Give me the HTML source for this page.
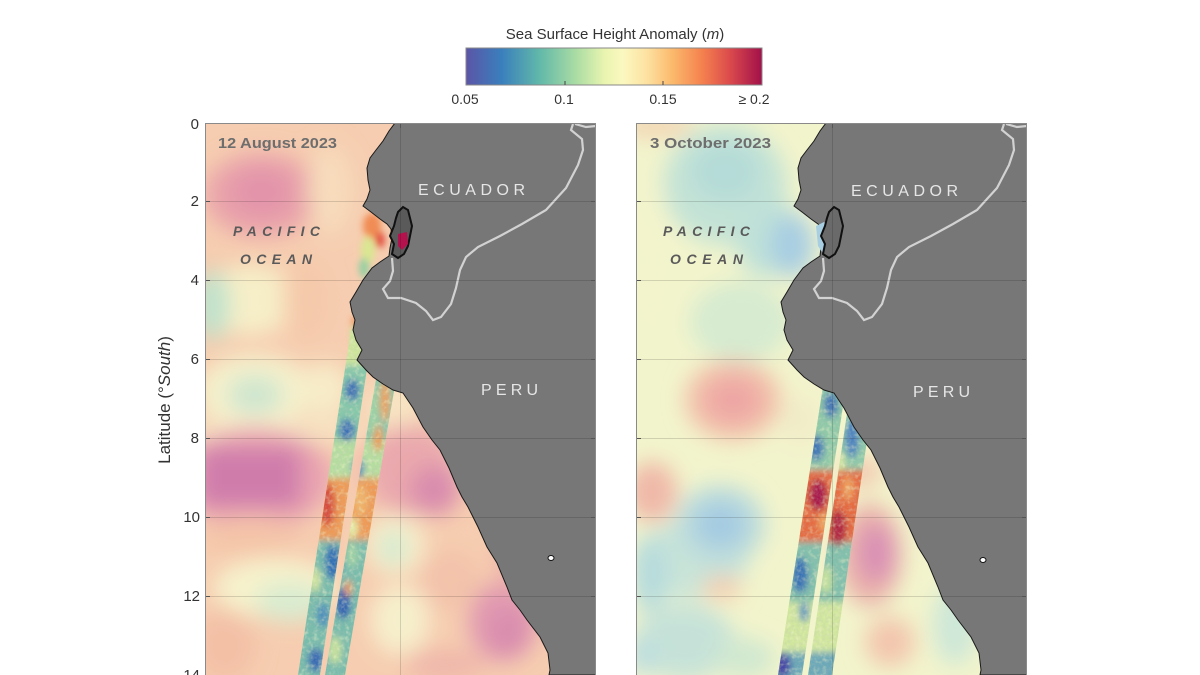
<!DOCTYPE html>
<html><head><meta charset="utf-8"><style>
html,body{margin:0;padding:0;background:#fff;}
svg{display:block;}
text{font-family:"Liberation Sans",sans-serif;}
</style></head><body>
<svg width="1200" height="675" viewBox="0 0 1200 675" xmlns="http://www.w3.org/2000/svg">
<defs>
  <linearGradient id="cb" x1="0" x2="1" y1="0" y2="0">
    <stop offset="0" stop-color="#5b55a6"/>
    <stop offset="0.12" stop-color="#3a7fbd"/>
    <stop offset="0.25" stop-color="#62b9a9"/>
    <stop offset="0.37" stop-color="#a9dca3"/>
    <stop offset="0.47" stop-color="#eaf5b0"/>
    <stop offset="0.53" stop-color="#fbf8c0"/>
    <stop offset="0.61" stop-color="#fde2a2"/>
    <stop offset="0.70" stop-color="#fbb86b"/>
    <stop offset="0.80" stop-color="#f4804e"/>
    <stop offset="0.89" stop-color="#db4b4c"/>
    <stop offset="1" stop-color="#a2104a"/>
  </linearGradient>
  <clipPath id="cpL"><rect x="205" y="123" width="391" height="552"/></clipPath>
  <clipPath id="cpR"><rect x="636" y="123" width="391" height="552"/></clipPath>
  <filter id="bl" x="-20%" y="-20%" width="140%" height="140%"><feGaussianBlur stdDeviation="11"/></filter>
  <filter id="bs" x="-20%" y="-20%" width="140%" height="140%"><feGaussianBlur stdDeviation="3.5"/></filter>
  <filter id="noise" x="0" y="0" width="100%" height="100%">
    <feTurbulence type="fractalNoise" baseFrequency="0.35" numOctaves="2" seed="3" result="t"/>
    <feColorMatrix type="matrix" values="0 0 0 0 0.5  0 0 0 0 0.5  0 0 0 0 0.5  0 0 0 1.6 -0.55"/>
  </filter>
  <filter id="noiseY" x="0" y="0" width="100%" height="100%">
    <feTurbulence type="fractalNoise" baseFrequency="0.22" numOctaves="2" seed="11" result="t"/>
    <feColorMatrix type="matrix" values="0 0 0 0 0.93  0 0 0 0 0.95  0 0 0 0 0.62  0 0 0 2.2 -1.05"/>
  </filter>
  <clipPath id="swL">
    <polygon points="351,330 373,330 320,675 298,675"/>
    <polygon points="378,368 398,368 345,675 325,675"/>
  </clipPath>
  <clipPath id="swR">
    <polygon points="824,380 847,380 802,675 778,675"/>
    <polygon points="852,380 876,380 832,675 808,675"/>
  </clipPath>
  <path id="land" d="M395,123 L389,131 L383,141 L376,150 L370,158 L367,168 L368,180 L370,190 L367,199 L363,206 L371,212 L380,219 L387,224 L391,229 L392,238 L390,248 L389,256 L380,262 L372,268 L363,280 L356,292 L350,302 L352,312 L355,320 L353,330 L356,340 L362,350 L357,360 L366,370 L373,377 L383,384 L393,390 L403,393 L413,408 L423,427 L432,440 L440,450 L449,468 L457,487 L462,497 L468,507 L478,527 L487,547 L497,563 L507,587 L512,600 L520,610 L527,620 L540,637 L548,653 L550,670 L549,675 L600,675 L600,118 L395,118 Z"/>
  <path id="border" d="M573,124 L571,130 L582,139 L583,150 L578,165 L566,188 L546,210 L522,224 L500,236 L478,247 L466,257 L460,270 L456,288 L451,304 L441,317 L433,320 L426,311 L416,303 L401,298 L388,298 L383,289 L390,281 L393,271 L392,258 M575,124 L586,127 L596,126"/>
  <path id="island" d="M398,212 L403,207 L408,210 L410,218 L412,226 L410,236 L408,246 L404,254 L398,258 L392,254 L394,244 L390,236 L394,226 L396,218 Z"/>
</defs>

<!-- Colorbar -->
<text x="615" y="39" font-size="15" fill="#333" text-anchor="middle">Sea Surface Height Anomaly (<tspan font-style="italic">m</tspan>)</text>
<rect x="466" y="48" width="296" height="37" fill="url(#cb)" stroke="#888" stroke-width="1"/>
<line x1="565" y1="81" x2="565" y2="85" stroke="#444" stroke-width="1"/>
<line x1="663" y1="81" x2="663" y2="85" stroke="#444" stroke-width="1"/>
<g font-size="14" fill="#333" text-anchor="middle">
  <text x="465" y="104">0.05</text>
  <text x="564" y="104">0.1</text>
  <text x="663" y="104">0.15</text>
  <text x="754" y="104">≥ 0.2</text>
</g>

<!-- Y axis -->
<g font-size="15" fill="#333" text-anchor="end">
  <text x="199" y="129">0</text>
  <text x="199" y="206">2</text>
  <text x="199" y="285">4</text>
  <text x="199" y="364">6</text>
  <text x="199" y="443">8</text>
  <text x="200" y="522">10</text>
  <text x="200" y="601">12</text>
  <text x="200" y="680">14</text>
</g>
<text transform="translate(170,400) rotate(-90)" font-size="17" fill="#333" text-anchor="middle">Latitude (°<tspan font-style="italic">South</tspan>)</text>

<!-- LEFT PANEL -->
<g clip-path="url(#cpL)">
  <rect x="205" y="123" width="391" height="552" fill="#f6cdb0"/>
  <g filter="url(#bl)">
    <ellipse cx="262" cy="195" rx="58" ry="42" fill="#e9a3aa"/>
    <ellipse cx="262" cy="192" rx="30" ry="22" fill="#e293aa"/>
    <ellipse cx="330" cy="190" rx="22" ry="45" fill="#f7dcbc"/>
    <ellipse cx="250" cy="300" rx="45" ry="35" fill="#f6efc8"/>
    <ellipse cx="212" cy="305" rx="18" ry="35" fill="#bfe2cc"/>
    <ellipse cx="305" cy="300" rx="22" ry="40" fill="#f5c9aa"/>
    <ellipse cx="255" cy="392" rx="58" ry="38" fill="#f5f1cc"/>
    <ellipse cx="255" cy="395" rx="28" ry="20" fill="#cfe6cf"/>
    <ellipse cx="325" cy="390" rx="25" ry="28" fill="#f7ecc8"/>
    <ellipse cx="395" cy="405" rx="30" ry="25" fill="#f7e4c2"/>
    <rect x="195" y="422" width="170" height="18" fill="#f7e6c4"/>
    <ellipse cx="255" cy="478" rx="78" ry="50" fill="#e8a2b0"/>
    <rect x="200" y="448" width="100" height="58" fill="#cf7cab"/>
    <ellipse cx="410" cy="470" rx="45" ry="45" fill="#eaa9ad"/>
    <ellipse cx="435" cy="490" rx="25" ry="25" fill="#d98cad"/>
    <ellipse cx="250" cy="535" rx="50" ry="18" fill="#f4c4a8"/>
    <ellipse cx="395" cy="545" rx="30" ry="30" fill="#f6f0cc"/>
    <ellipse cx="393" cy="548" rx="14" ry="18" fill="#d3e9d0"/>
    <ellipse cx="275" cy="588" rx="62" ry="30" fill="#f6f2cc"/>
    <ellipse cx="290" cy="602" rx="35" ry="20" fill="#d9ecd0"/>
    <ellipse cx="225" cy="645" rx="30" ry="35" fill="#f3c0a6"/>
    <ellipse cx="450" cy="580" rx="30" ry="30" fill="#f3c3aa"/>
    <ellipse cx="503" cy="622" rx="35" ry="40" fill="#e19ab0"/>
    <ellipse cx="508" cy="632" rx="18" ry="22" fill="#d88cae"/>
    <ellipse cx="400" cy="620" rx="30" ry="35" fill="#f6efcc"/>
    <ellipse cx="445" cy="665" rx="40" ry="15" fill="#efb6aa"/>
    <ellipse cx="520" cy="560" rx="25" ry="30" fill="#efb4aa"/>
  </g>
  <g filter="url(#bs)" opacity="0.95">
    <ellipse cx="372" cy="226" rx="9" ry="13" fill="#f08850"/>
    <ellipse cx="368" cy="250" rx="7" ry="14" fill="#d8e890"/>
    <ellipse cx="380" cy="240" rx="5" ry="8" fill="#e04a3a"/>
    <ellipse cx="364" cy="268" rx="5" ry="10" fill="#8fd0a0"/>
    <ellipse cx="356" cy="335" rx="5" ry="12" fill="#c8e49a"/>
    <ellipse cx="356" cy="322" rx="4" ry="5" fill="#e8803f"/>
  </g>
  <!-- swath -->
  <g clip-path="url(#swL)">
    <rect x="290" y="320" width="120" height="360" fill="#d8ec9e"/>
    <g filter="url(#bs)">
      <rect x="290" y="320" width="120" height="45" fill="#cfe69c"/>
      <rect x="290" y="365" width="120" height="75" fill="#86c8aa"/>
      <rect x="290" y="440" width="120" height="40" fill="#b6dea0"/>
      <rect x="290" y="478" width="120" height="62" fill="#f09a55"/>
      <rect x="290" y="540" width="120" height="140" fill="#78bcac"/>
      <ellipse cx="352" cy="390" rx="7" ry="11" fill="#3a6db5"/>
      <ellipse cx="347" cy="430" rx="8" ry="11" fill="#3b70b6"/>
      <ellipse cx="385" cy="400" rx="5" ry="22" fill="#f0a058"/>
      <ellipse cx="378" cy="438" rx="5" ry="14" fill="#ee9a55"/>
      <ellipse cx="372" cy="410" rx="6" ry="25" fill="#9cd3a4"/>
      <ellipse cx="358" cy="468" rx="6" ry="10" fill="#4d88bd"/>
      <ellipse cx="327" cy="505" rx="8" ry="22" fill="#d84a3a"/>
      <ellipse cx="360" cy="500" rx="7" ry="16" fill="#f3b468"/>
      <ellipse cx="352" cy="528" rx="6" ry="10" fill="#e6f0a8"/>
      <ellipse cx="333" cy="562" rx="8" ry="18" fill="#2f6db5"/>
      <ellipse cx="343" cy="603" rx="8" ry="16" fill="#2f5fb0"/>
      <ellipse cx="323" cy="615" rx="6" ry="12" fill="#4a8cbc"/>
      <ellipse cx="316" cy="660" rx="8" ry="12" fill="#3468b3"/>
      <ellipse cx="335" cy="650" rx="6" ry="14" fill="#c9e49c"/>
      <ellipse cx="348" cy="588" rx="4" ry="8" fill="#f09a5a"/>
      <ellipse cx="352" cy="555" rx="6" ry="12" fill="#9ed3a4"/>
      <ellipse cx="315" cy="580" rx="5" ry="12" fill="#d8ea9e"/>
    </g>
    <rect x="290" y="320" width="120" height="360" filter="url(#noiseY)" opacity="0.55"/>
    <rect x="290" y="320" width="120" height="360" filter="url(#noise)" opacity="0.3"/>
    <polygon points="373,330 378,330 325,675 320,675" fill="#f2d8cc"/>
  </g>
  <use href="#land" fill="#777" stroke="#1a1a1a" stroke-width="1"/>
  <use href="#border" fill="none" stroke="#d2d2d2" stroke-width="2.2"/>
  <use href="#island" fill="#5a5a5a" stroke="#111" stroke-width="2"/>
  <path d="M398,234 L407,232 L408,244 L402,250 L398,246 Z" fill="#b3124c"/>
  <ellipse cx="551" cy="558" rx="3" ry="2.5" fill="#fff" stroke="#111" stroke-width="1"/>
  <g stroke="#000" stroke-opacity="0.14" stroke-width="1">
    <line x1="205" y1="201.5" x2="596" y2="201.5"/>
    <line x1="205" y1="280.5" x2="596" y2="280.5"/>
    <line x1="205" y1="359.5" x2="596" y2="359.5"/>
    <line x1="205" y1="438.5" x2="596" y2="438.5"/>
    <line x1="205" y1="517.5" x2="596" y2="517.5"/>
    <line x1="205" y1="596.5" x2="596" y2="596.5"/>
    <line x1="400.5" y1="123" x2="400.5" y2="675"/>
  </g>
  <g stroke="#555" stroke-width="1">
    <line x1="205" y1="201.5" x2="210" y2="201.5"/><line x1="591" y1="201.5" x2="596" y2="201.5"/>
    <line x1="205" y1="280.5" x2="210" y2="280.5"/><line x1="591" y1="280.5" x2="596" y2="280.5"/>
    <line x1="205" y1="359.5" x2="210" y2="359.5"/><line x1="591" y1="359.5" x2="596" y2="359.5"/>
    <line x1="205" y1="438.5" x2="210" y2="438.5"/><line x1="591" y1="438.5" x2="596" y2="438.5"/>
    <line x1="205" y1="517.5" x2="210" y2="517.5"/><line x1="591" y1="517.5" x2="596" y2="517.5"/>
    <line x1="205" y1="596.5" x2="210" y2="596.5"/><line x1="591" y1="596.5" x2="596" y2="596.5"/>
    <line x1="400.5" y1="123" x2="400.5" y2="128"/>
  </g>
  <text x="218" y="148" font-size="15" font-weight="bold" fill="#6e6e6e" textLength="119" lengthAdjust="spacingAndGlyphs">12 August 2023</text>
  <text x="418" y="195" font-size="16" fill="#e6e6e6" textLength="107" lengthAdjust="spacing">ECUADOR</text>
  <text x="233" y="236" font-size="14" font-weight="bold" font-style="italic" fill="#5a5a5a" textLength="87" lengthAdjust="spacing">PACIFIC</text>
  <text x="240" y="264" font-size="14" font-weight="bold" font-style="italic" fill="#5a5a5a" textLength="72" lengthAdjust="spacing">OCEAN</text>
  <text x="481" y="395" font-size="16" fill="#e6e6e6" textLength="57" lengthAdjust="spacing">PERU</text>
</g>
<rect x="205.5" y="123.5" width="390" height="560" fill="none" stroke="#8a8a8a" stroke-width="1"/>

<!-- RIGHT PANEL -->
<g clip-path="url(#cpR)">
  <rect x="636" y="123" width="391" height="552" fill="#f2f4cc"/>
  <g filter="url(#bl)">
    <ellipse cx="655" cy="126" rx="40" ry="10" fill="#f3d0b0"/>
    <ellipse cx="725" cy="185" rx="62" ry="60" fill="#c4e3d6"/>
    <ellipse cx="725" cy="172" rx="35" ry="30" fill="#b5dcd8"/>
    <ellipse cx="765" cy="235" rx="30" ry="42" fill="#bfe1d8"/>
    <ellipse cx="792" cy="245" rx="22" ry="32" fill="#a8cee2"/>
    <ellipse cx="650" cy="260" rx="22" ry="80" fill="#f3f4cc"/>
    <ellipse cx="740" cy="322" rx="50" ry="40" fill="#d6ebd0"/>
    <ellipse cx="733" cy="400" rx="48" ry="40" fill="#f2c0aa"/>
    <ellipse cx="733" cy="400" rx="28" ry="22" fill="#eea6a4"/>
    <ellipse cx="652" cy="492" rx="25" ry="30" fill="#f0b8a8"/>
    <ellipse cx="690" cy="560" rx="58" ry="38" fill="#c9e4d8"/>
    <ellipse cx="720" cy="525" rx="45" ry="40" fill="#bcdcdc"/>
    <ellipse cx="720" cy="525" rx="25" ry="22" fill="#a4cbe2"/>
    <ellipse cx="722" cy="588" rx="20" ry="12" fill="#f4cdb0"/>
    <ellipse cx="650" cy="575" rx="18" ry="38" fill="#b6dbdd"/>
    <ellipse cx="685" cy="642" rx="50" ry="38" fill="#c6e2d8"/>
    <ellipse cx="745" cy="658" rx="30" ry="20" fill="#d0e8d0"/>
    <ellipse cx="870" cy="555" rx="32" ry="52" fill="#ebb2aa"/>
    <ellipse cx="876" cy="553" rx="18" ry="30" fill="#d990b5"/>
    <ellipse cx="862" cy="472" rx="20" ry="15" fill="#f3c8b0"/>
    <ellipse cx="890" cy="642" rx="25" ry="25" fill="#f3c6ae"/>
    <ellipse cx="955" cy="625" rx="22" ry="40" fill="#cde7d8"/>
    <ellipse cx="642" cy="655" rx="14" ry="20" fill="#bcdde0"/>
    <ellipse cx="800" cy="420" rx="20" ry="25" fill="#f1ecc8"/>
  </g>
  <g clip-path="url(#swR)">
    <rect x="770" y="375" width="115" height="305" fill="#d6eaa0"/>
    <g filter="url(#bs)">
      <rect x="770" y="375" width="115" height="95" fill="#8fcaa8"/>
      <rect x="770" y="470" width="115" height="72" fill="#e66a40"/>
      <rect x="770" y="542" width="115" height="60" fill="#80c0ac"/>
      <rect x="770" y="602" width="115" height="50" fill="#d2e89e"/>
      <rect x="770" y="652" width="115" height="30" fill="#6aa8b8"/>
      <ellipse cx="831" cy="405" rx="7" ry="13" fill="#3a70b5"/>
      <ellipse cx="816" cy="448" rx="8" ry="13" fill="#3d74b6"/>
      <ellipse cx="852" cy="438" rx="7" ry="20" fill="#4a80c0"/>
      <ellipse cx="840" cy="462" rx="5" ry="9" fill="#d8eaa0"/>
      <ellipse cx="818" cy="495" rx="9" ry="16" fill="#a8184a"/>
      <ellipse cx="838" cy="528" rx="8" ry="18" fill="#b02040"/>
      <ellipse cx="824" cy="522" rx="5" ry="10" fill="#f3a860"/>
      <ellipse cx="848" cy="488" rx="5" ry="12" fill="#f2a45e"/>
      <ellipse cx="800" cy="575" rx="8" ry="18" fill="#3570b5"/>
      <ellipse cx="826" cy="580" rx="6" ry="14" fill="#c8e49c"/>
      <ellipse cx="782" cy="665" rx="9" ry="12" fill="#4444a4"/>
      <ellipse cx="804" cy="612" rx="5" ry="10" fill="#5b96bf"/>
    </g>
    <rect x="770" y="375" width="115" height="305" filter="url(#noiseY)" opacity="0.5"/>
    <rect x="770" y="375" width="115" height="305" filter="url(#noise)" opacity="0.3"/>
    <polygon points="847,380 852,380 808,675 802,675" fill="#e9ece0"/>
  </g>
  <g transform="translate(431,0)">
    <use href="#land" fill="#777" stroke="#1a1a1a" stroke-width="1"/>
    <use href="#border" fill="none" stroke="#d2d2d2" stroke-width="2.2"/>
  </g>
  <path d="M816,226 L824,222 L831,228 L833,240 L828,250 L822,252 L818,246 Z" fill="#a8cee2"/>
  <use href="#island" transform="translate(431,0)" fill="#6a6a6a" stroke="#111" stroke-width="2"/>
  <ellipse cx="983" cy="560" rx="3" ry="2.5" fill="#fff" stroke="#111" stroke-width="1"/>
  <g stroke="#000" stroke-opacity="0.14" stroke-width="1">
    <line x1="636" y1="201.5" x2="1027" y2="201.5"/>
    <line x1="636" y1="280.5" x2="1027" y2="280.5"/>
    <line x1="636" y1="359.5" x2="1027" y2="359.5"/>
    <line x1="636" y1="438.5" x2="1027" y2="438.5"/>
    <line x1="636" y1="517.5" x2="1027" y2="517.5"/>
    <line x1="636" y1="596.5" x2="1027" y2="596.5"/>
    <line x1="832.5" y1="123" x2="832.5" y2="675"/>
  </g>
  <g stroke="#555" stroke-width="1">
    <line x1="636" y1="201.5" x2="641" y2="201.5"/><line x1="1022" y1="201.5" x2="1027" y2="201.5"/>
    <line x1="636" y1="280.5" x2="641" y2="280.5"/><line x1="1022" y1="280.5" x2="1027" y2="280.5"/>
    <line x1="636" y1="359.5" x2="641" y2="359.5"/><line x1="1022" y1="359.5" x2="1027" y2="359.5"/>
    <line x1="636" y1="438.5" x2="641" y2="438.5"/><line x1="1022" y1="438.5" x2="1027" y2="438.5"/>
    <line x1="636" y1="517.5" x2="641" y2="517.5"/><line x1="1022" y1="517.5" x2="1027" y2="517.5"/>
    <line x1="636" y1="596.5" x2="641" y2="596.5"/><line x1="1022" y1="596.5" x2="1027" y2="596.5"/>
    <line x1="832.5" y1="123" x2="832.5" y2="128"/>
  </g>
  <text x="650" y="148" font-size="15" font-weight="bold" fill="#6e6e6e" textLength="121" lengthAdjust="spacingAndGlyphs">3 October 2023</text>
  <text x="851" y="196" font-size="16" fill="#e6e6e6" textLength="107" lengthAdjust="spacing">ECUADOR</text>
  <text x="663" y="236" font-size="14" font-weight="bold" font-style="italic" fill="#5a5a5a" textLength="87" lengthAdjust="spacing">PACIFIC</text>
  <text x="670" y="264" font-size="14" font-weight="bold" font-style="italic" fill="#5a5a5a" textLength="73" lengthAdjust="spacing">OCEAN</text>
  <text x="913" y="397" font-size="16" fill="#e6e6e6" textLength="57" lengthAdjust="spacing">PERU</text>
</g>
<rect x="636.5" y="123.5" width="390" height="560" fill="none" stroke="#8a8a8a" stroke-width="1"/>
</svg>
</body></html>
